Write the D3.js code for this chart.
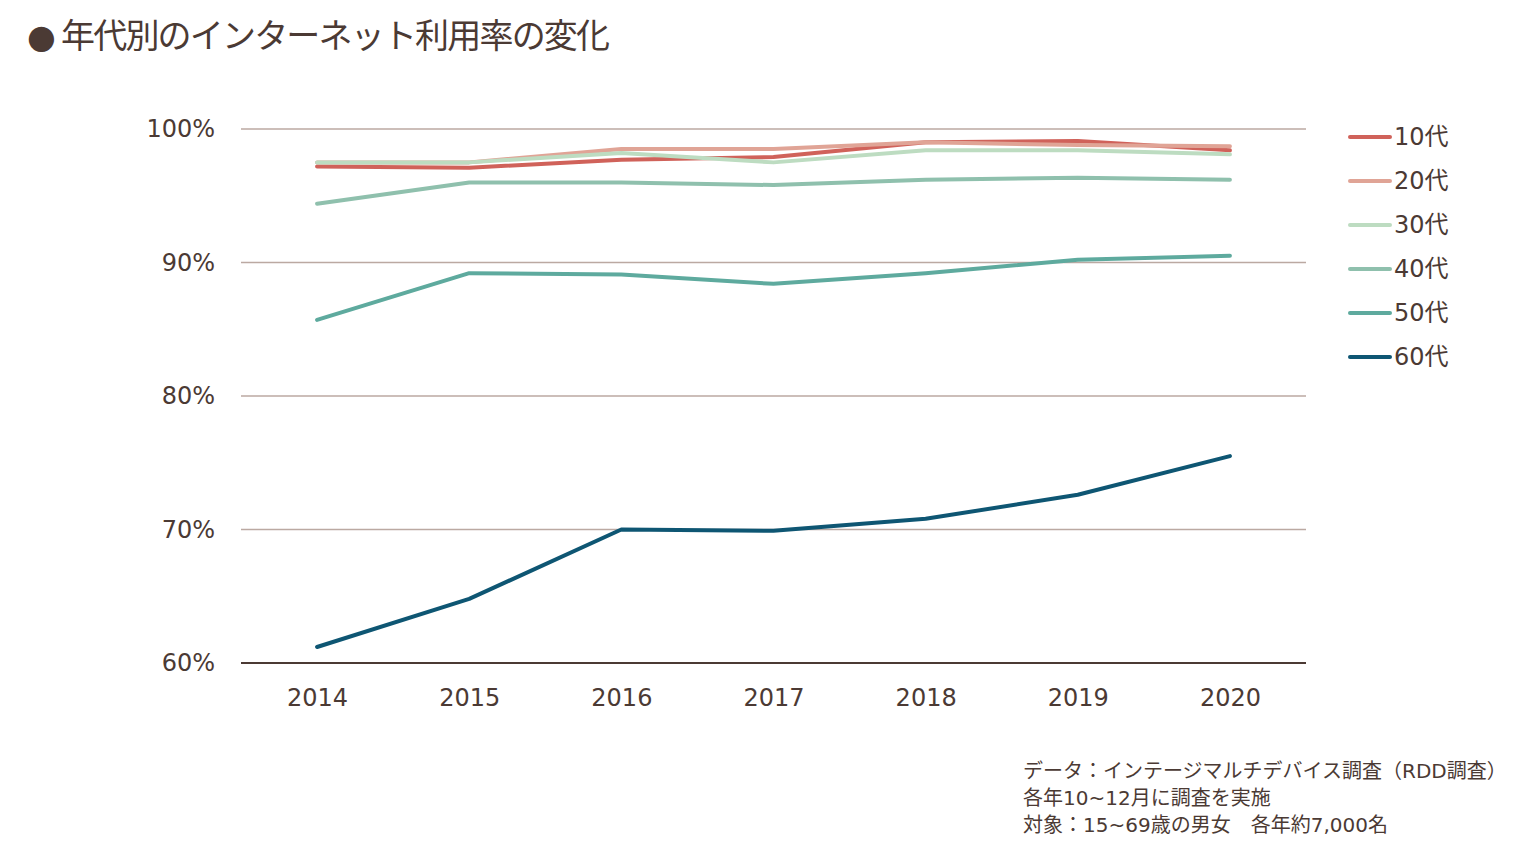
<!DOCTYPE html>
<html>
<head>
<meta charset="utf-8">
<script src="https://cdn.jsdelivr.net/npm/d3@7"></script>
<style>
  body { margin: 0; background: #fff; }
  text { font-family: "DejaVu Sans", "Noto Sans CJK JP", sans-serif; fill: #4b3a34; }
</style>
</head>
<body>
<svg id="chart" width="1523" height="852"></svg>
<script>
var years = ['2014', '2015', '2016', '2017', '2018', '2019', '2020'];
var seriesNames = ['10代', '20代', '30代', '40代', '50代', '60代'];
var colors = ['#d0625a', '#e0a496', '#bddcc1', '#8fc0ad', '#5eaa9e', '#0e5673'];

/* values in percent */
var teens   = [97.2, 97.1, 97.7, 97.9, 99.0, 99.1, 98.4];
var twenties = [97.5, 97.5, 98.5, 98.5, 99.0, 98.8, 98.7];
var thirties = [97.5, 97.5, 98.2, 97.5, 98.4, 98.4, 98.1];
var forties = [94.4, 96.0, 96.0, 95.8, 96.2, 96.35, 96.2];
var fifties = [85.7, 89.2, 89.1, 88.4, 89.2, 90.2, 90.5];
var sixties = [61.2, 64.8, 70.0, 69.9, 70.8, 72.6, 75.5];

var yTicks = [60, 70, 80, 90, 100];
var footnotes = [
  'データ：インテージマルチデバイス調査（RDD調査）',
  '各年10~12月に調査を実施',
  '対象：15~69歳の男女\u3000各年約7,000名'
];

var allSeries = [teens, twenties, thirties, forties, fifties, sixties];

var svg = d3.select('#chart');

/* Title */
var title = svg.append('text')
  .attr('x', 27)
  .attr('y', 48)
  .style('font-size', '34px');
title.append('tspan')
  .style('font-size', '33px')
  .text('●');
title.append('tspan')
  .attr('x', 61)
  .attr('textLength', 549)
  .attr('lengthAdjust', 'spacing')
  .style('font-family', '"Noto Sans CJK JP", sans-serif')
  .text('年代別のインターネット利用率の変化');

/* Scales */
var xScale = d3.scalePoint()
  .domain(years)
  .range([241, 1306])
  .padding(0.5);

var yScale = d3.scaleLinear()
  .domain([60, 100])
  .range([663, 129]);

/* Grid lines */
svg.append('g')
  .selectAll('line')
  .data(yTicks.slice(1))
  .join('line')
  .attr('x1', 241)
  .attr('x2', 1306)
  .attr('y1', function (d) { return yScale(d); })
  .attr('y2', function (d) { return yScale(d); })
  .attr('stroke', '#bba9a2')
  .attr('stroke-width', 1.5);

/* Y labels */
var yAxis = d3.axisLeft(yScale)
  .tickValues(yTicks)
  .tickSize(0)
  .tickPadding(26)
  .tickFormat(function (d) { return d + '%'; });

svg.append('g')
  .attr('transform', 'translate(241,0)')
  .call(yAxis)
  .call(function (g) { g.select('.domain').remove(); })
  .selectAll('text')
  .style('font-family', '"DejaVu Sans", sans-serif')
  .style('font-size', '24px')
  .attr('fill', '#4b3a34');

/* X axis */
var xAxis = d3.axisBottom(xScale)
  .tickSize(0)
  .tickPadding(26);

svg.append('g')
  .attr('transform', 'translate(0,' + yScale(60) + ')')
  .call(xAxis)
  .call(function (g) {
    g.select('.domain').attr('stroke', '#4b3a34').attr('stroke-width', 2)
      .attr('d', 'M241,0H1306');
  })
  .selectAll('text')
  .style('font-family', '"DejaVu Sans", sans-serif')
  .style('font-size', '24px')
  .attr('fill', '#4b3a34');

/* Lines */
var line = d3.line()
  .x(function (d, i) { return xScale(years[i]); })
  .y(function (d) { return yScale(d); });

svg.append('g')
  .selectAll('path')
  .data(allSeries)
  .join('path')
  .attr('d', line)
  .attr('fill', 'none')
  .attr('stroke', function (d, i) { return colors[i]; })
  .attr('stroke-width', 4)
  .attr('stroke-linecap', 'round')
  .attr('stroke-linejoin', 'round');

/* Legend */
var legend = svg.append('g')
  .selectAll('g')
  .data(seriesNames)
  .join('g')
  .attr('transform', function (d, i) { return 'translate(1348,' + (137 + i * 44) + ')'; });

legend.append('line')
  .attr('x1', 2)
  .attr('x2', 42)
  .attr('stroke', function (d, i) { return colors[i]; })
  .attr('stroke-width', 4)
  .attr('stroke-linecap', 'round');

legend.append('text')
  .attr('x', 46)
  .attr('dy', '0.35em')
  .style('font-size', '24px')
  .text(function (d) { return d; });

/* Footnotes */
svg.append('g')
  .selectAll('text')
  .data(footnotes)
  .join('text')
  .attr('x', 1023)
  .attr('y', function (d, i) { return 778 + i * 27; })
  .style('font-size', '20px')
  .text(function (d) { return d; });
</script>
</body>
</html>
